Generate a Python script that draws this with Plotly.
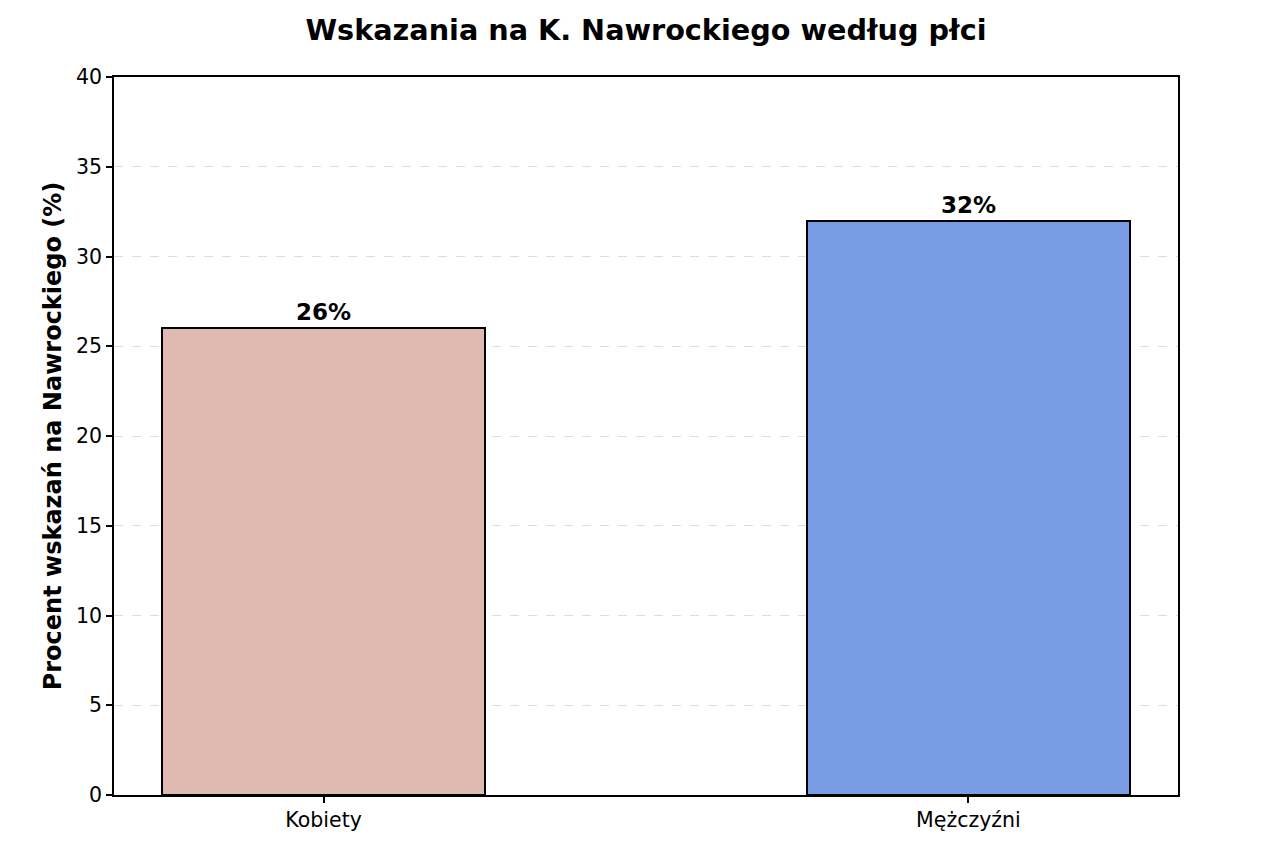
import plotly.graph_objects as go

categories = ["Kobiety", "Mężczyźni"]
values = [26, 32]
labels = ["26%", "32%"]
colors = ["#DEBAB1", "#789DE4"]
y_ticks = [0, 5, 10, 15, 20, 25, 30, 35, 40]

fig = go.Figure()
fig.add_trace(go.Bar(
    x=[0, 1], y=values, width=0.5,
    marker=dict(color=colors, line=dict(color="black", width=2)),
    text=labels, textposition="outside", cliponaxis=False,
    textfont=dict(family="DejaVu Sans", size=23, color="black", weight="bold"),
    hoverinfo="skip",
))

fig.update_layout(
    width=1264, height=863,
    paper_bgcolor="white", plot_bgcolor="white",
    margin=dict(l=106, r=94, t=69, b=76),
    font=dict(family="DejaVu Sans", color="black"),
    title=dict(text="<b>Wskazania na K. Nawrockiego według płci</b>",
               x=0.5, xref="container", xanchor="center", y=0.975, yanchor="middle",
               font=dict(size=28.7, family="DejaVu Sans", color="black")),
    showlegend=False,
    bargap=0,
)
fig.update_layout(title=dict(xref="paper", x=0.5))
fig.update_xaxes(
    range=[-0.325, 1.325], tickvals=[0, 1], ticktext=categories,
    showline=True, linecolor="black", linewidth=1.5, mirror=True,
    ticks="outside", ticklen=6, tickcolor="black", tickwidth=1.5,
    tickfont=dict(size=20.5), showgrid=False, zeroline=False,
)
fig.update_yaxes(
    range=[0, 40], tickvals=y_ticks,
    showline=True, linecolor="black", linewidth=1.5, mirror=True,
    ticks="outside", ticklen=6, tickcolor="black", tickwidth=1.5,
    tickfont=dict(size=20.5),
    showgrid=True, gridcolor="rgba(180,180,180,0.45)", griddash="dash", gridwidth=1,
    zeroline=False, layer="above traces",
    title=dict(text="<b>Procent wskazań na Nawrockiego (%)</b>", font=dict(size=24), standoff=8),
)

fig.write_html("out.html")
